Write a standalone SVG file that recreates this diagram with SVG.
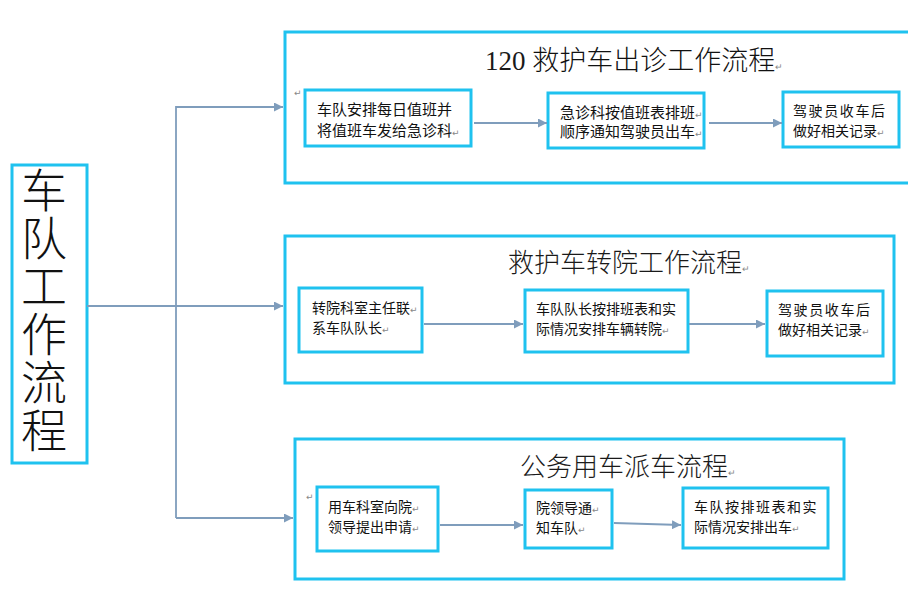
<svg xmlns="http://www.w3.org/2000/svg" width="922" height="609" viewBox="0 0 922 609">
<style>
.frame{fill:none;stroke:#1fc2ef;stroke-width:3}
.box{fill:#fff;stroke:#1fc2ef;stroke-width:3}
.t{font-family:"Noto Sans CJK SC","Noto Sans",sans-serif;fill:#111}
.s{font-size:14px}
.m{font-size:15px}
.title{font-size:26px;font-weight:300;fill:#1a1a1a}
.big{font-size:46px;font-weight:300;fill:#111}
.rm{font-family:"DejaVu Sans",sans-serif;font-size:9px;fill:#888}
.conn{fill:none;stroke:#7f9dbc;stroke-width:1.8}
</style>
<defs>
<marker id="ah" viewBox="0 0 10 10" refX="10" refY="5" markerWidth="5" markerHeight="5" orient="auto" markerUnits="strokeWidth">
<path d="M0,0 L10,5 L0,10 z" fill="#7f9dbc"/>
</marker>
</defs>
<rect width="922" height="609" fill="#fff"/>

<g id="main">
<rect class="box" x="12" y="165" width="75" height="298"/>
<text class="t big" x="44" y="167" writing-mode="vertical-rl" letter-spacing="2">车队工作流程</text>
</g>

<g id="flow1">
<path class="frame" d="M908,32 H285 V183 H908"/>
<text x="485" y="70" style="font-size:27px;font-weight:300;fill:#1a1a1a"><tspan style="font-family:'Liberation Serif',serif">120 </tspan><tspan class="t" style="font-size:27px;font-weight:300">救护车出诊工作流程</tspan><tspan class="rm">↵</tspan></text>
<text class="rm" x="294" y="96">↵</text>
</g>
<g id="n1a">
<rect class="box" x="305" y="90" width="166" height="56"/>
<text class="t m" x="317" y="115">车队安排每日值班并</text>
<text class="t m" x="317" y="136">将值班车发给急诊科<tspan class="rm">↵</tspan></text>
</g>
<g id="n1b">
<rect class="box" x="548" y="93" width="156" height="55"/>
<text class="t m" x="560" y="118">急诊科按值班表排班<tspan class="rm">↵</tspan></text>
<text class="t m" x="560" y="137">顺序通知驾驶员出车<tspan class="rm">↵</tspan></text>
</g>
<g id="n1c">
<rect class="box" x="783" y="92" width="116" height="55"/>
<text class="t s" x="793" y="116" letter-spacing="1.6">驾驶员收车后</text>
<text class="t s" x="793" y="136">做好相关记录<tspan class="rm">↵</tspan></text>
</g>

<g id="flow2">
<rect class="frame" x="285" y="236" width="609" height="147"/>
<text class="t title" x="508" y="272">救护车转院工作流程<tspan class="rm">↵</tspan></text>
</g>
<g id="n2a">
<rect class="box" x="299" y="288" width="123" height="64"/>
<text class="t s" x="312" y="313">转院科室主任联<tspan class="rm">↵</tspan></text>
<text class="t s" x="312" y="333">系车队队长<tspan class="rm">↵</tspan></text>
</g>
<g id="n2b">
<rect class="box" x="525" y="290" width="163" height="62"/>
<text class="t s" x="536" y="314">车队队长按排班表和实</text>
<text class="t s" x="536" y="334">际情况安排车辆转院<tspan class="rm">↵</tspan></text>
</g>
<g id="n2c">
<rect class="box" x="767" y="291" width="116" height="65"/>
<text class="t s" x="778" y="315" letter-spacing="1.6">驾驶员收车后</text>
<text class="t s" x="778" y="335">做好相关记录<tspan class="rm">↵</tspan></text>
</g>

<g id="flow3">
<rect class="frame" x="295" y="439" width="549" height="140"/>
<text class="t title" x="520" y="476">公务用车派车流程<tspan class="rm">↵</tspan></text>
<text class="rm" x="306" y="500">↵</text>
</g>
<g id="n3a">
<rect class="box" x="317" y="487" width="121" height="64"/>
<text class="t s" x="328" y="512">用车科室向院<tspan class="rm">↵</tspan></text>
<text class="t s" x="328" y="532">领导提出申请<tspan class="rm">↵</tspan></text>
</g>
<g id="n3b">
<rect class="box" x="525" y="490" width="87" height="58"/>
<text class="t s" x="536" y="513">院领导通<tspan class="rm">↵</tspan></text>
<text class="t s" x="536" y="533">知车队<tspan class="rm">↵</tspan></text>
</g>
<g id="n3c">
<rect class="box" x="683" y="488" width="145" height="60"/>
<text class="t s" x="694" y="512" letter-spacing="1.5">车队按排班表和实</text>
<text class="t s" x="694" y="532">际情况安排出车<tspan class="rm">↵</tspan></text>
</g>

<g id="connectors">
<path class="conn" d="M87,306 H283" marker-end="url(#ah)"/>
<path class="conn" d="M176,518 V107 H283" marker-end="url(#ah)"/>
<path class="conn" d="M176,518 H293" marker-end="url(#ah)"/>
<path class="conn" d="M474,123 H547" marker-end="url(#ah)"/>
<path class="conn" d="M709,123 H782" marker-end="url(#ah)"/>
<path class="conn" d="M424,324 H523" marker-end="url(#ah)"/>
<path class="conn" d="M689,324 H765" marker-end="url(#ah)"/>
<path class="conn" d="M440,525 H523" marker-end="url(#ah)"/>
<path class="conn" d="M614,523 L681,525" marker-end="url(#ah)"/>
</g>
</svg>
